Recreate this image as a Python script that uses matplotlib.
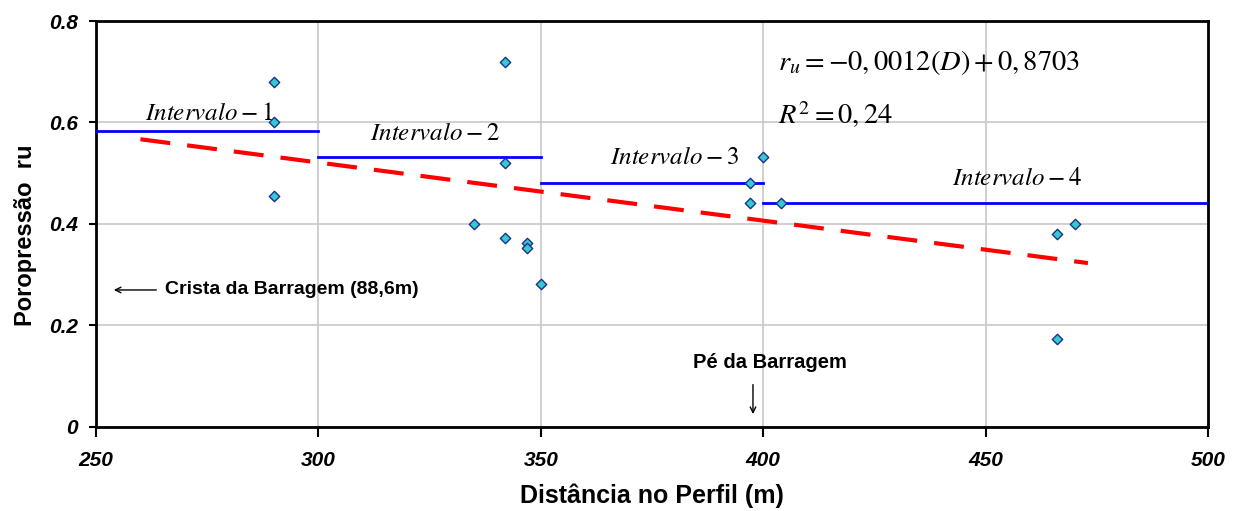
import matplotlib
matplotlib.use("Agg")
import matplotlib.pyplot as plt

plt.rcParams['font.family'] = ['Liberation Sans', 'DejaVu Sans']
plt.rcParams['mathtext.fontset'] = 'stix'

# measured points: distance (m) and pore pressure ratio ru
dist = [290, 290, 290, 342, 342, 335, 342, 347, 347, 350,
        400, 397, 397, 404, 466, 470, 466]
ru = [0.680, 0.601, 0.455, 0.719, 0.520, 0.400, 0.372, 0.363, 0.353, 0.282,
      0.532, 0.480, 0.441, 0.441, 0.380, 0.400, 0.173]

# mean ru per interval
int_start = [250, 300, 350, 400]
int_end = [300, 350, 400, 500]
int_ru = [0.583, 0.532, 0.481, 0.441]
int_labels = ['$\\mathit{Intervalo}-1$', '$\\mathit{Intervalo}-2$',
              '$\\mathit{Intervalo}-3$', '$\\mathit{Intervalo}-4$']

# trend line endpoints
trend_x = [260, 473]
trend_y = [0.567, 0.323]

fig = plt.figure(figsize=(12.38, 5.11), dpi=100)
ax = fig.add_axes([0.0775, 0.1644, 0.8983, 0.7945])

ax.set_xlim(250, 500)
ax.set_ylim(0, 0.8)
ax.set_xticks([250, 300, 350, 400, 450, 500])
ax.set_yticks([0, 0.2, 0.4, 0.6, 0.8])
ax.set_xticklabels(['250', '300', '350', '400', '450', '500'])
ax.set_yticklabels(['0', '0.2', '0.4', '0.6', '0.8'])
ax.grid(True, color='#c8c8c8', linewidth=1.2)
ax.set_axisbelow(True)
for s in ax.spines.values():
    s.set_linewidth(2)
ax.tick_params(axis='x', direction='out', length=7, width=1.5, pad=10)
ax.tick_params(axis='y', direction='out', length=5, width=1.5, pad=8)
for lab in ax.get_xticklabels() + ax.get_yticklabels():
    lab.set_fontweight('bold')
    lab.set_fontstyle('italic')
    lab.set_fontsize(15)

ax.plot(trend_x, trend_y, color='red', linewidth=3, dashes=(7.2, 4.1), zorder=2)
for x0, x1, y in zip(int_start, int_end, int_ru):
    ax.plot([x0, x1], [y, y], color='#0000ff', linewidth=2, zorder=3)

ax.scatter(dist, ru, marker='D', s=28, facecolor='#33cccc',
           edgecolor='#1f2f8f', linewidth=1, zorder=4)

# interval labels
lab_pos = [(261, 0.619), (311.6, 0.579), (365.6, 0.532), (442.4, 0.491)]
for (lx, ly), t in zip(lab_pos, int_labels):
    ax.text(lx, ly, t, fontsize=18, ha='left', va='center')

ax.text(403.3, 0.719, '$r_u=-0,0012(D)+0,8703$', fontsize=20.5, ha='left', va='center')
ax.text(403.3, 0.615, '$R^2=0,24$', fontsize=20.5, ha='left', va='center')

ax.annotate('', xy=(253.4, 0.27), xytext=(264.2, 0.27),
            arrowprops=dict(arrowstyle='->', color='black', lw=1))
ax.text(265.6, 0.27, 'Crista da Barragem (88,6m)', fontsize=14,
        fontweight='bold', ha='left', va='center')

ax.text(401.5, 0.128, 'Pé da Barragem', fontsize=14.5, fontweight='bold',
        ha='center', va='center')
ax.annotate('', xy=(397.7, 0.02), xytext=(397.7, 0.089),
            arrowprops=dict(arrowstyle='->', color='black', lw=1))

ax.set_xlabel('Distância no Perfil (m)', fontsize=18, fontweight='bold', labelpad=10)
ax.set_ylabel('Poropressão  ru', fontsize=17, fontweight='bold')
ax.yaxis.set_label_coords(-0.053, 0.473)

fig.savefig('out.png', dpi=100)
